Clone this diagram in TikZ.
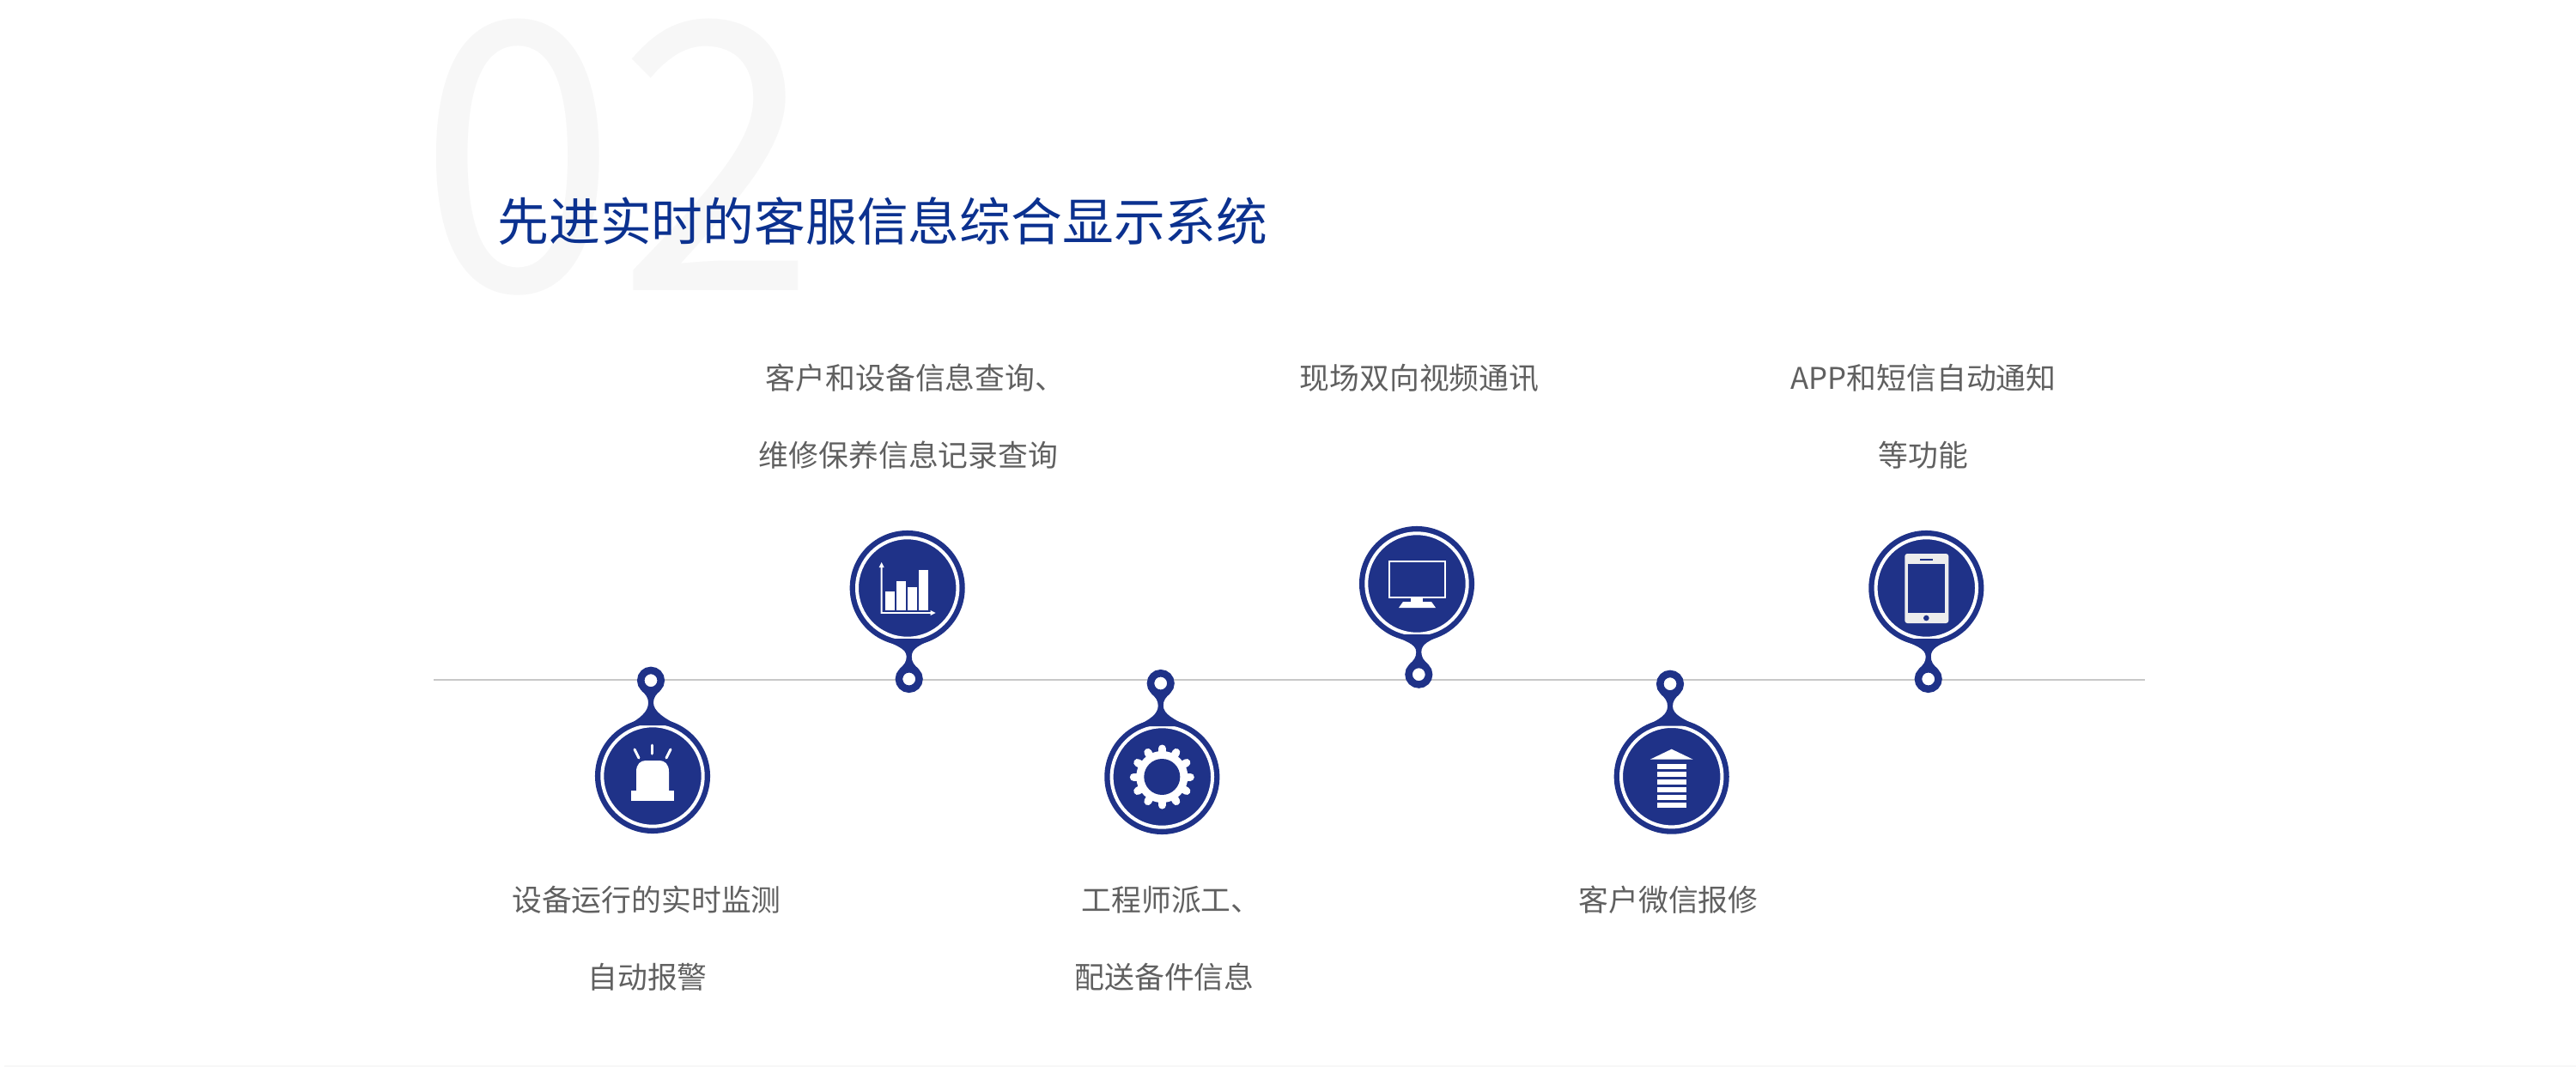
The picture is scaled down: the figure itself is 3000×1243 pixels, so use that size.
\documentclass[tikz,border=0pt]{standalone}
\usepackage{fontspec}
\setmainfont{Noto Sans CJK SC}
\usepackage{xcolor}
\usetikzlibrary{calc}
\definecolor{mynavy}{RGB}{31, 50, 136}
\definecolor{mytitle}{RGB}{11, 49, 143}
\definecolor{mytext}{RGB}{96, 96, 96}
\definecolor{mydigit}{RGB}{247, 247, 247}
\definecolor{myline}{RGB}{200, 200, 200}

\tikzset{
    headnode/.style={circle, fill=mynavy, minimum size=1.34cm, inner sep=0pt},
    ringnode/.style={circle, draw=mynavy, fill=white, line width=0.085cm, minimum size=0.235cm, inner sep=0pt},
    textnode/.style={font=\fontsize{9.9}{12}\selectfont, text=mytext, anchor=center, inner sep=0pt},
    whitering/.style={draw=white, line width=0.04cm},
    raystroke/.style={draw=white, line width=0.03cm, line cap=round}
}

\begin{document}
\begin{tikzpicture}[x=0.01cm, y=-0.01cm]
    \useasboundingbox (0,0) rectangle (3000,1243);
    \fill[mydigit] (5,1241) rectangle (3000,1243);

    % 标题
    \node[font=\fontsize{124}{130}\selectfont, text=mydigit, inner sep=0pt, xscale=0.955, transform shape] (digits) at (719,183) {02};
    \node[font=\fontsize{17}{22}\selectfont, text=mytitle, inner sep=0pt] (title) at (1028,258) {先进实时的客服信息综合显示系统};

    % 时间轴
    \coordinate (lineL) at (505,791.5);
    \coordinate (lineR) at (2498,791.5);
    \draw[myline, line width=0.02cm] (lineL) -- (lineR);

    % 定位针
    \foreach \name/\hx/\hy/\rx/\ry/\dir in {
        alarm/760/904/758/792.7/-1,
        chart/1056.7/685/1058.7/791/1,
        gear/1353.3/905/1351.7/796/-1,
        screen/1650/680/1652.3/785.7/1,
        stack/1946.7/904.7/1945/796.7/-1,
        phone/2243.3/685/2245.7/791/1} {
        \pgfmathsetmacro{\pinoff}{\hx-\rx}
        \pgfmathsetmacro{\pindist}{abs(\hy-\ry)}
        \node[headnode] (\name) at (\hx,\hy) {};
        \draw[whitering] (\name.center) circle (58.7);
        \begin{scope}[shift={(\rx,\ry)}, yscale=\dir]
            \fill[mynavy] (\pinoff-30,59-\pindist) .. controls (\pinoff-14,67-\pindist) and (-3,-36) .. (-3,-26)
                .. controls (-3,-20) and (-6,-16) .. (-11,-12) -- (11,-12)
                .. controls (6,-16) and (3,-20) .. (3,-26)
                .. controls (3,-36) and (\pinoff+14,67-\pindist) .. (\pinoff+30,59-\pindist) -- cycle;
        \end{scope}
        \node[ringnode] (\name dot) at (\rx,\ry) {};
    }

    % 报警灯
    \begin{scope}[shift={(alarm.center)}]
        \fill[white] (-25,17) rectangle (25,29);
        \fill[white] (-19,18) -- (-19,-5) .. controls (-19,-14) and (-14,-18) .. (-8,-18)
            -- (8,-18) .. controls (14,-18) and (19,-14) .. (19,-5) -- (19,18) -- cycle;
        \foreach \xa/\ya/\xb/\yb in {-1/-36/-1/-26, -21/-31/-16/-21, 21/-31/16/-21}
            \draw[raystroke] (\xa,\ya) -- (\xb,\yb);
    \end{scope}

    % 柱状图
    \begin{scope}[shift={(chart.center)}]
        \foreach \xa/\xb/\ytop in {-26/-15/4, -13/-2/-8, 0/11/-1, 13/24/-21}
            \fill[white] (\xa,26) rectangle (\xb,\ytop);
        \fill[white] (-31,29.8) rectangle (28,28) (-31,29.8) rectangle (-29,-25);
        \fill[white] (-30,-30) -- (-33,-24) -- (-27,-24) -- cycle;
        \fill[white] (33,29) -- (27,26) -- (27,32) -- cycle;
    \end{scope}

    % 齿轮
    \begin{scope}[shift={(gear.center)}]
        \fill[white] (0,0) circle (30);
        \foreach \a in {0,30,...,330}
            \draw[white, line width=0.09cm, line cap=round] (\a:28) -- (\a:33);
        \fill[mynavy] (0,0) circle (21);
    \end{scope}

    % 显示器
    \begin{scope}[shift={(screen.center)}]
        \draw[white, line width=0.02cm] (-32,-26) rectangle (33,16);
        \fill[white] (-7,17) rectangle (7,23);
        \fill[white] (-16,21) -- (17,21) -- (22,28) -- (-21,28) -- cycle;
    \end{scope}

    % 箭头楼
    \begin{scope}[shift={(stack.center)}]
        \fill[white] (0,-32) -- (25,-20) -- (-25,-20) -- cycle;
        \foreach \i in {0,...,5}
            \fill[white] (-17,-14.7+8.9*\i) rectangle (17,-8.7+8.9*\i);
    \end{scope}

    % 手机
    \begin{scope}[shift={(phone.center)}]
        \fill[white!93!black, rounded corners=0.03cm] (-25,-40) rectangle (26,41);
        \fill[mynavy] (-21,-28.5) rectangle (22,29);
        \fill[mynavy] (-7,-34) rectangle (8,-32);
        \fill[mynavy] (0,35) circle (3.3);
    \end{scope}

    % 文字
    \node[textnode] (chartA) at (1066,440) {客户和设备信息查询、};
    \node[textnode] (chartB) at (1058,530) {维修保养信息记录查询};
    \node[textnode] (screenA) at (1653,440) {现场双向视频通讯};
    \node[textnode] (phoneA) at (2240,440) {APP和短信自动通知};
    \node[textnode] (phoneB) at (2240,530) {等功能};
    \node[textnode] (alarmA) at (753,1048) {设备运行的实时监测};
    \node[textnode] (alarmB) at (754,1138) {自动报警};
    \node[textnode] (gearA) at (1364,1048) {工程师派工、};
    \node[textnode] (gearB) at (1356,1138) {配送备件信息};
    \node[textnode] (stackA) at (1943,1048) {客户微信报修};
\end{tikzpicture}
\end{document}
